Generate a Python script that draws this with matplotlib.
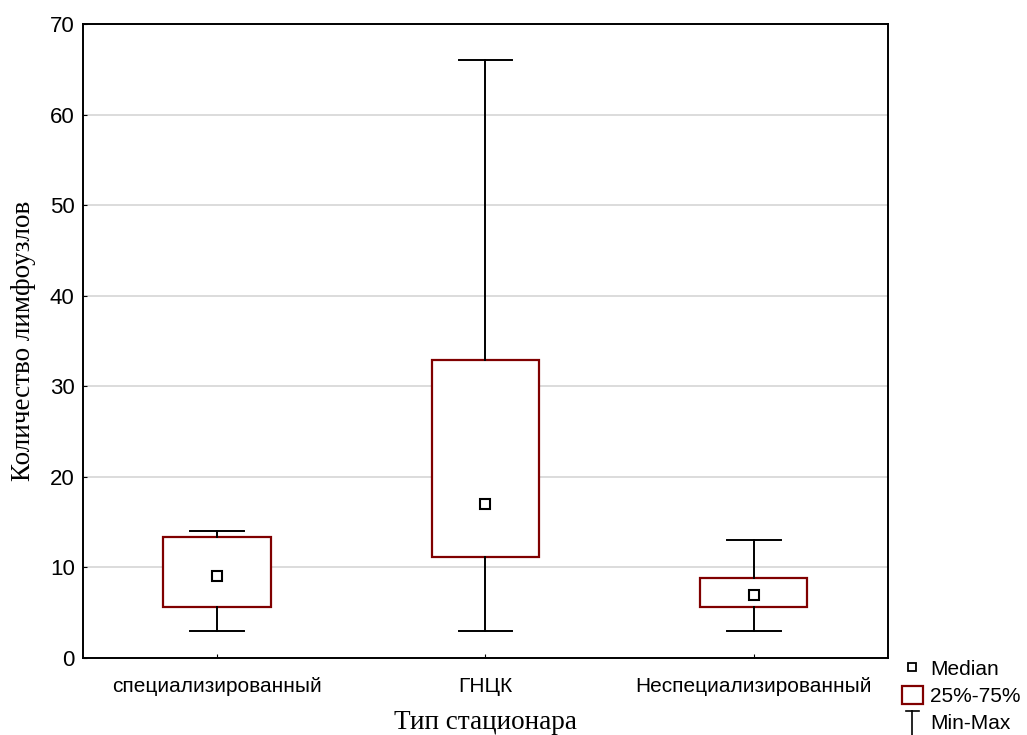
import matplotlib.pyplot as plt
from matplotlib.lines import Line2D
from matplotlib.patches import Patch
from matplotlib.legend_handler import HandlerBase

categories = ["специализированный", "ГНЦК", "Неспециализированный"]
mins = [3, 3, 3]
q1 = [5.6, 11.1, 5.6]
medians = [9, 17, 7]
q3 = [13.4, 32.9, 8.8]
maxs = [14, 66, 13]

BOX_RED = "#800000"
plt.rcParams["font.family"] = ["Liberation Sans", "DejaVu Sans"]


class MinMaxHandler(HandlerBase):
    def create_artists(self, legend, orig_handle, xdescent, ydescent,
                       width, height, fontsize, trans):
        cx = width / 2 - xdescent
        top = height * 1.05 - ydescent
        bot = -ydescent - height * 0.3
        stem = Line2D([cx, cx], [bot, top], color="black", lw=1.2, transform=trans)
        cap = Line2D([cx - width * 0.3, cx + width * 0.3], [top, top],
                     color="black", lw=1.2, transform=trans)
        return [stem, cap]


fig = plt.figure(figsize=(10.27, 7.35), dpi=100)
ax = fig.add_axes([0.0808, 0.1048, 0.7838, 0.8625])

stats = []
for i, name in enumerate(categories):
    stats.append({"label": name, "whislo": mins[i], "q1": q1[i], "med": medians[i],
                  "mean": medians[i], "q3": q3[i], "whishi": maxs[i]})

ax.bxp(stats, positions=[0, 1, 2], widths=0.4, capwidths=0.2,
       patch_artist=True, showmeans=True, showfliers=False,
       boxprops=dict(facecolor="white", edgecolor=BOX_RED, linewidth=1.6),
       whiskerprops=dict(color="black", linewidth=1.4),
       capprops=dict(color="black", linewidth=1.4),
       medianprops=dict(visible=False),
       meanprops=dict(marker="s", markerfacecolor="white", markeredgecolor="black",
                      markeredgewidth=1.5, markersize=7),
       zorder=3)

ax.set_xlim(-0.5, 2.5)
ax.set_ylim(0, 70)
ax.set_yticks(range(0, 71, 10))
ax.yaxis.grid(True, color="#d9d9d9", linewidth=1.3)
ax.set_axisbelow(True)
ax.tick_params(direction="in", length=3, colors="black")
ax.tick_params(axis="y", labelsize=16, pad=6)
ax.tick_params(axis="x", labelsize=15, pad=14)
for sp in ax.spines.values():
    sp.set_linewidth(1.4)

ax.set_xlabel("Тип стационара", fontsize=19.5, family="Liberation Serif", labelpad=10)
ax.set_ylabel("Количество лимфоузлов", fontsize=19.5, family="Liberation Serif", labelpad=10)

handles = [
    Line2D([], [], marker="s", linestyle="none", markerfacecolor="white",
           markeredgecolor="black", markeredgewidth=1.3, markersize=6),
    Patch(facecolor="white", edgecolor=BOX_RED, linewidth=1.6),
    "minmax",
]
leg = fig.legend(handles, ["Median", "25%-75%", "Min-Max"],
                 handler_map={str: MinMaxHandler()},
                 loc="lower left", bbox_to_anchor=(0.866, -0.014),
                 frameon=False, fontsize=15, handlelength=1.0, handleheight=1.0,
                 handletextpad=0.35, labelspacing=0.3, borderaxespad=0.2)

fig.savefig("out.png", dpi=100)
